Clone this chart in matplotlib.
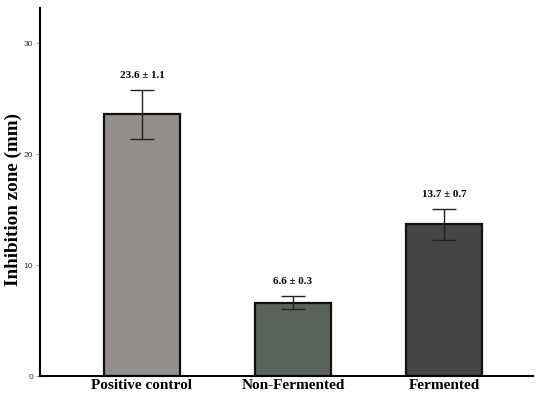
import matplotlib
matplotlib.use("Agg")
import matplotlib.pyplot as plt
import numpy as np

categories = ["Positive control", "Non-Fermented", "Fermented"]
means = [23.6, 6.6, 13.7]
sds = [1.1, 0.3, 0.7]
err = [2.2, 0.6, 1.4]
colors = ["#948f8d", "#5a645c", "#454546"]
yticks = [0, 10, 20, 30]

fig = plt.figure(figsize=(5.43, 3.96), dpi=100)
ax = fig.add_axes([0.0737, 0.0505, 0.9079, 0.9293])
x = np.arange(len(categories))
ax.bar(x, means, width=0.5, color=colors, edgecolor="#111111", linewidth=1.6, zorder=2)
ax.errorbar(x, means, yerr=err, fmt="none", ecolor="#222222", elinewidth=1.0,
            capsize=8.6, capthick=1.0, zorder=3)
for xi, m, s, e in zip(x, means, sds, err):
    ax.text(xi, m + e + 0.9, f"{m} \u00b1 {s}", ha="center", va="bottom",
            fontsize=8, family="Liberation Serif", fontweight="bold")

ax.set_xlim(-0.675, 2.59)
ax.set_ylim(0, 33.2)
ax.set_yticks(yticks)
ax.set_yticklabels([str(t) for t in yticks], fontsize=6, family="Liberation Sans", color="#333333")
ax.tick_params(axis="y", length=3, width=0.6, color="#888888", pad=2)
ax.set_xticks(x)
ax.set_xticklabels(categories, fontsize=11, family="Liberation Serif", fontweight="bold")
ax.tick_params(axis="x", length=0, pad=2)
for sp in ["top", "right"]:
    ax.spines[sp].set_visible(False)
ax.spines["left"].set_linewidth(1.5)
ax.spines["bottom"].set_linewidth(1.5)
ax.set_ylabel("Inhibition zone (mm)", fontsize=13.8, family="Liberation Serif",
              fontweight="bold")
ax.yaxis.set_label_coords(-0.036, 0.48)
fig.savefig("out.png", dpi=100)
